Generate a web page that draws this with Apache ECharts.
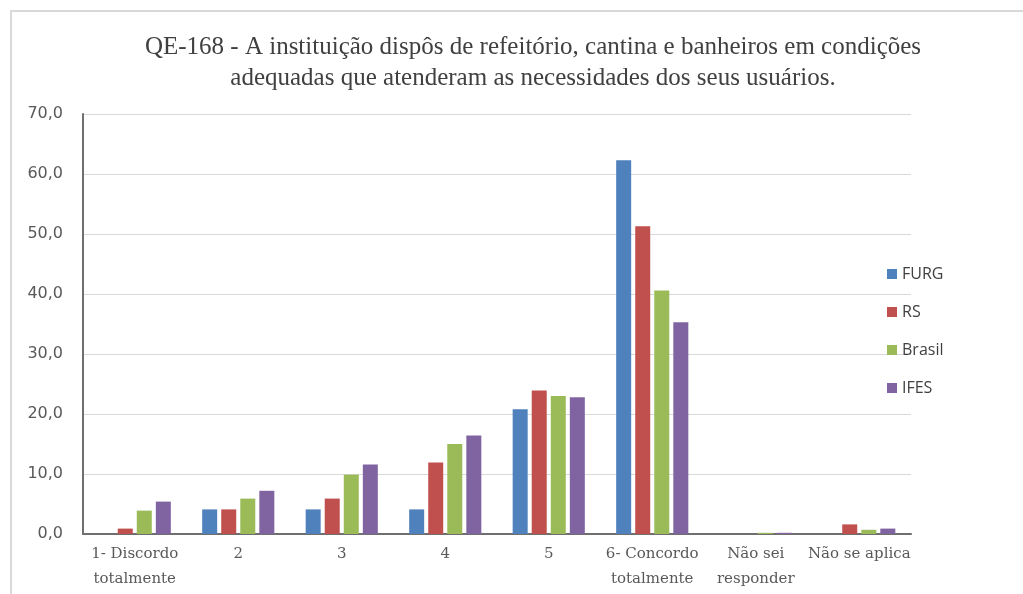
<!DOCTYPE html>
<html>
<head>
<meta charset="utf-8">
<script src="https://cdn.jsdelivr.net/npm/echarts@6/dist/echarts.min.js"></script>
<style>
  html, body { margin: 0; padding: 0; background: #ffffff; }
  #chart { width: 1023px; height: 594px; }
</style>
</head>
<body>
<div id="chart"></div>
<script>
// Response categories (x axis)
const categories = [
  '1- Discordo\ntotalmente', '2', '3', '4', '5',
  '6- Concordo\ntotalmente', 'Não sei\nresponder', 'Não se aplica'
];

// Percentages per group
const furg   = [0.0, 4.1, 4.1, 4.1, 20.8, 62.3, 0.0, 0.0];
const rs     = [0.9, 4.1, 5.9, 11.9, 23.9, 51.3, 0.0, 1.6];
const brasil = [3.9, 5.9, 9.9, 15.0, 23.0, 40.6, 0.2, 0.7];
const ifes   = [5.4, 7.2, 11.6, 16.4, 22.8, 35.3, 0.2, 0.9];

const seriesNames = ['FURG', 'RS', 'Brasil', 'IFES'];
const seriesColors = ['#4F81BD', '#C0504D', '#9BBB59', '#8064A2'];
const seriesData = [furg, rs, brasil, ifes];

const titleText = 'QE-168 - A instituição dispôs de refeitório, cantina e banheiros em condições\nadequadas que atenderam as necessidades dos seus usuários.';

const chart = echarts.init(document.getElementById('chart'), null, { renderer: 'canvas' });

chart.setOption({
  backgroundColor: '#ffffff',
  animation: false,
  graphic: [{
    type: 'rect',
    shape: { x: 11, y: 11, width: 1100, height: 700 },
    style: { fill: 'none', stroke: '#d9d9d9', lineWidth: 2 },
    silent: true
  }],
  title: {
    text: titleText,
    left: 528,
    textAlign: 'center',
    top: 27,
    textStyle: {
      fontFamily: 'Liberation Serif',
      fontSize: 25,
      fontWeight: 'normal',
      color: '#404040',
      lineHeight: 31
    }
  },
  legend: {
    orient: 'vertical',
    left: 882,
    top: 260,
    itemWidth: 10,
    itemHeight: 10,
    itemGap: 20,
    icon: 'rect',
    textStyle: { fontFamily: 'Open Sans', fontSize: 16, color: '#404040', lineHeight: 18 },
    data: seriesNames
  },
  grid: { left: 83, right: 112, top: 114, bottom: 60, containLabel: false },
  xAxis: {
    type: 'category',
    data: categories,
    axisLine: { show: true, lineStyle: { color: '#6f6f6f', width: 2 } },
    axisTick: { show: false },
    axisLabel: {
      interval: 0,
      margin: 8,
      fontFamily: 'DejaVu Serif',
      fontSize: 15,
      color: '#595959',
      lineHeight: 25
    }
  },
  yAxis: {
    type: 'value',
    min: 0,
    max: 70,
    interval: 10,
    axisLine: { show: true, lineStyle: { color: '#6f6f6f', width: 2 } },
    axisTick: { show: false },
    splitLine: { lineStyle: { color: '#d9d9d9', width: 1 } },
    axisLabel: {
      margin: 20,
      fontFamily: 'DejaVu Sans',
      fontSize: 16,
      color: '#595959',
      formatter: v => v.toFixed(1).replace('.', ',')
    }
  },
  series: seriesNames.map((name, i) => ({
    name: name,
    type: 'bar',
    data: seriesData[i],
    barWidth: 15,
    barGap: '27%',
    itemStyle: { color: seriesColors[i] }
  }))
});
</script>
</body>
</html>
